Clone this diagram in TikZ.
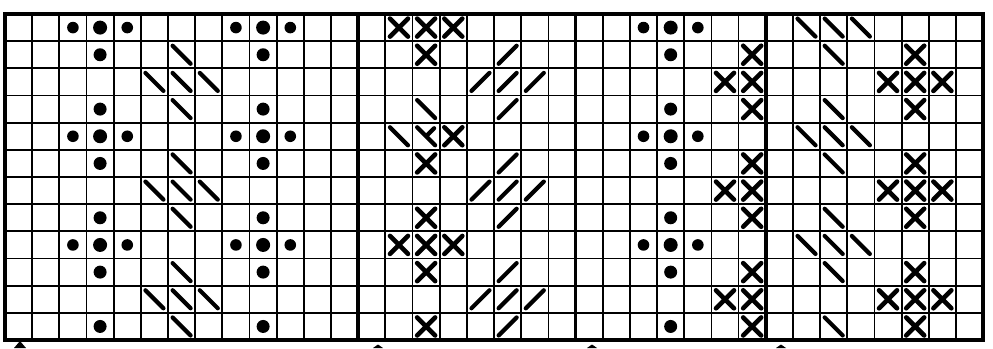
\documentclass[tikz,border=0pt]{standalone}
\begin{document}
\begin{tikzpicture}[x=1pt,y=-1pt,
  gridthin/.style={line width=1.8pt},
  gridthick/.style={line width=3.8pt},
  stitch/.style={line width=4.2pt, line cap=round},
  xstitch/.style={line width=4.6pt, line cap=round}]
\useasboundingbox (0,0) rectangle (993,348);
\fill[white] (0,0) rectangle (993,348);
\def\xo{5}\def\yo{14}\def\cs{27.17}
% grid
\foreach \k in {1,...,35} \draw[gridthin] ({\xo+\cs*\k},\yo) -- ({\xo+\cs*\k},{\yo+12*\cs});
\foreach \k in {1,...,11} \draw[gridthin] (\xo,{\yo+\cs*\k}) -- ({\xo+36*\cs},{\yo+\cs*\k});
\foreach \k in {13,21,28} \draw[gridthick] ({\xo+\cs*\k},\yo) -- ({\xo+\cs*\k},{\yo+12*\cs});
\draw[gridthick] (\xo,\yo) rectangle ({\xo+36*\cs},{\yo+12*\cs});
% small side dots
\foreach \c/\r in {3/1,5/1,9/1,11/1,3/5,5/5,9/5,11/5,3/9,5/9,9/9,11/9,24/1,26/1,24/5,26/5,24/9,26/9}
  \fill ({\xo+\cs*(\c-0.5)},{\yo+\cs*(\r-0.5)}) circle (5.8);
% big centre dots
\foreach \c/\r in {4/1,10/1,4/5,10/5,4/9,10/9,25/1,25/5,25/9}
  \fill ({\xo+\cs*(\c-0.5)},{\yo+\cs*(\r-0.5)}) circle (7);
% column dots
\foreach \c in {4,10,25}
  \foreach \r in {2,4,6,8,10,12}
    \fill ({\xo+\cs*(\c-0.5)},{\yo+\cs*(\r-0.5)}) circle (6.5);
% backslashes
\foreach \c/\r in {7/2,7/3,7/4,7/6,7/7,7/8,7/10,7/11,7/12,6/3,8/3,6/7,8/7,6/11,8/11,
  16/4,15/5,16/5,
  31/1,31/2,31/4,31/5,31/6,31/8,31/9,31/10,31/12,30/1,32/1,30/5,32/5,30/9,32/9}
  \draw[stitch,shift={({\xo+\cs*(\c-0.5)},{\yo+\cs*(\r-0.5)})}] (-9,-9) -- (9,9);
% partial stroke on row 5, column 16
\draw[stitch,shift={({\xo+\cs*15.5},{\yo+\cs*4.5})}] (1,-1) -- (8,-8);
% slashes
\foreach \c/\r in {19/2,19/3,19/4,19/6,19/7,19/8,19/10,19/11,19/12,18/3,20/3,18/7,20/7,18/11,20/11}
  \draw[stitch,shift={({\xo+\cs*(\c-0.5)},{\yo+\cs*(\r-0.5)})}] (-9,9) -- (9,-9);
% crosses
\foreach \c/\r in {15/1,16/1,17/1,16/2,17/5,16/6,16/8,15/9,16/9,17/9,16/10,16/12,
  28/2,28/3,28/4,28/6,28/7,28/8,28/10,28/11,28/12,27/3,27/7,27/11,
  34/2,34/3,34/4,34/6,34/7,34/8,34/10,34/11,34/12,33/3,35/3,33/7,35/7,33/11,35/11}
  \draw[xstitch,shift={({\xo+\cs*(\c-0.5)},{\yo+\cs*(\r-0.5)})}] (-9,-9) -- (9,9) (-9,9) -- (9,-9);
% arrow tips peeking below the chart
\fill (14,348) -- (20,341) -- (26,348) -- cycle;
\foreach \x in {378,592,781}
  \fill ({\x-5},348) -- (\x,344.5) -- ({\x+5},348) -- cycle;
\end{tikzpicture}
\end{document}
